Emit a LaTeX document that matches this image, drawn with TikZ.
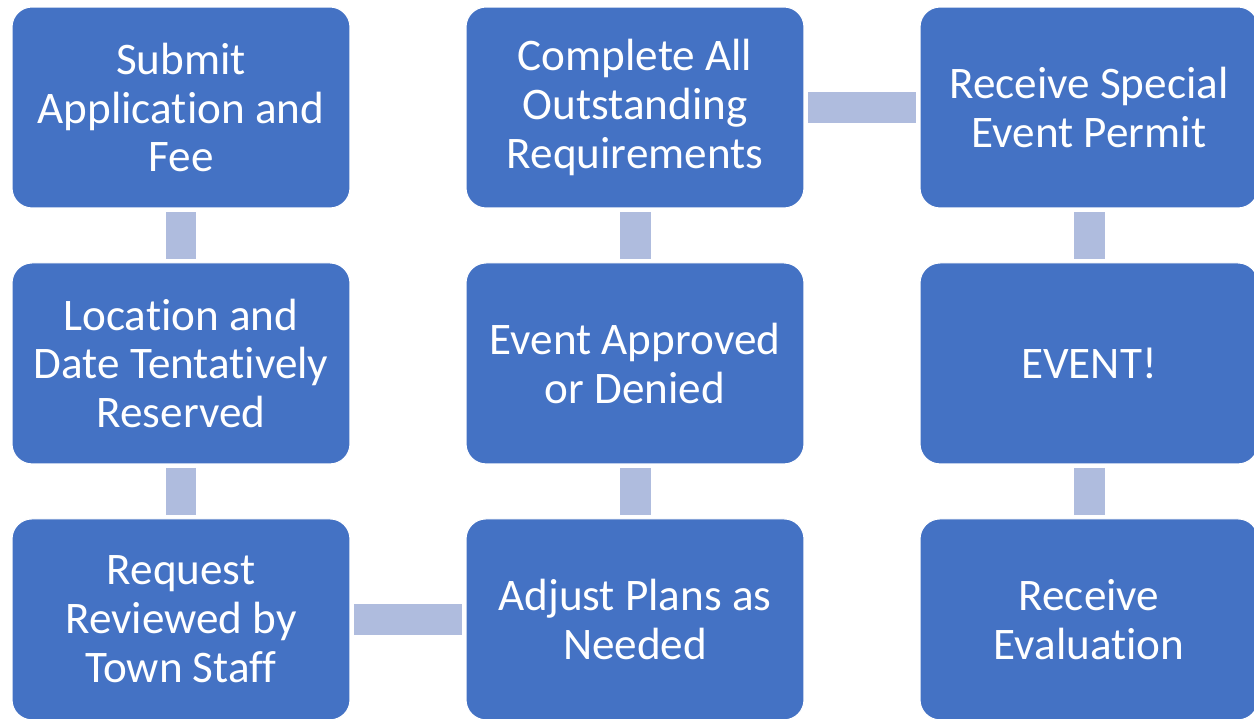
\documentclass[tikz,border=0pt]{standalone}
\usepackage{fontspec}
\setmainfont[Ligatures=NoCommon]{Carlito}
\usetikzlibrary{positioning}
\definecolor{boxblue}{RGB}{68,114,196}
\definecolor{barblue}{RGB}{175,188,222}
\begin{document}
\begin{tikzpicture}[x=0.02cm, y=-0.02cm, node distance=5.12cm,
		stage/.style={rectangle, rounded corners=0.4cm, fill=boxblue, draw=white, line width=0.6pt, text=white, align=center, minimum width=6.76cm, minimum height=4.02cm, font=\fontsize{25.7}{27.8}\selectfont},
		link/.style={draw=barblue, line width=0.62cm, shorten >=0.07cm, shorten <=0.07cm}]
		\useasboundingbox (0,0) rectangle (1254,719);
		\clip (0,0) rectangle (1254,719);
		
		\node (submit) [stage] at (181,107.5) {Submit\\Application and\\Fee};
		\node (reserved) [stage, below of=submit] {Location and\\Date Tentatively\\Reserved};
		\node (review) [stage, below of=reserved] {Request\\Reviewed by\\Town Staff};
		
		\node (complete) [stage] at (635,107.5) {Complete All\\Outstanding\\Requirements};
		\node (approved) [stage, below of=complete] {Event Approved\\or Denied};
		\node (adjust) [stage, below of=approved] {Adjust Plans as\\Needed};
		
		\node (permit) [stage] at (1089,107.5) {Receive Special\\Event Permit};
		\node (event) [stage, below of=permit] {EVENT!};
		\node (evaluation) [stage, below of=event] {Receive\\Evaluation};
		
		\draw[link] (submit) -- (reserved);
		\draw[link] (reserved) -- (review);
		\draw[link] (review) -- (adjust);
		\draw[link] (adjust) -- (approved);
		\draw[link] (approved) -- (complete);
		\draw[link] (complete) -- (permit);
		\draw[link] (permit) -- (event);
		\draw[link] (event) -- (evaluation);
	\end{tikzpicture}
\end{document}
